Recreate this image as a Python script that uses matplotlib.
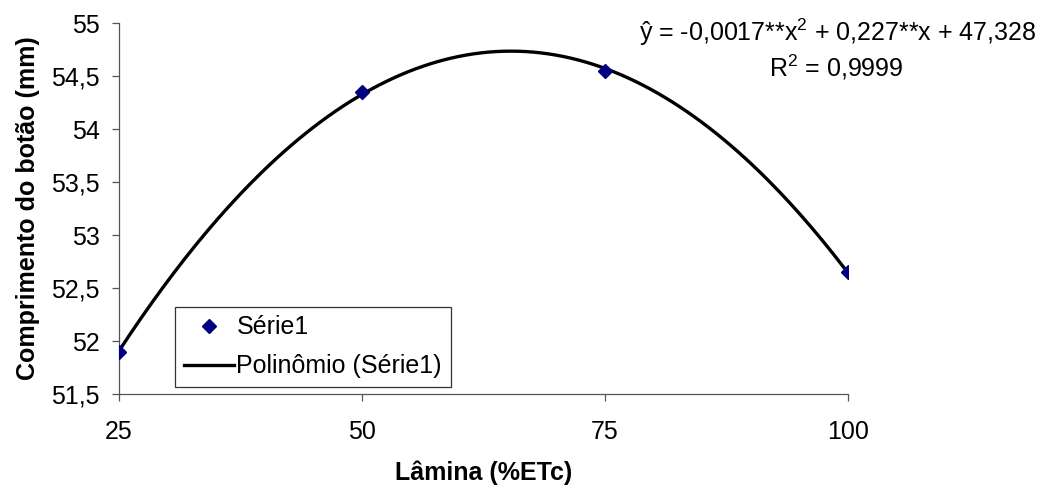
import numpy as np
import matplotlib.pyplot as plt
from matplotlib.ticker import FuncFormatter

plt.rcParams['font.family'] = ['Liberation Sans', 'DejaVu Sans']
plt.rcParams['mathtext.fontset'] = 'custom'
plt.rcParams['mathtext.rm'] = 'Liberation Sans'
plt.rcParams['mathtext.it'] = 'Liberation Sans'

# data
lamina = [25, 50, 75, 100]
comprimento = [51.9, 54.35, 54.55, 52.65]
x_ticks = [25, 50, 75, 100]
y_ticks = [51.5, 52, 52.5, 53, 53.5, 54, 54.5, 55]

# trend line (2nd degree polynomial, like the spreadsheet trendline)
coef = np.polyfit(lamina, comprimento, 2)
xs = np.linspace(25, 100, 200)
ys = np.polyval(coef, xs)

fig = plt.figure(figsize=(10.43, 4.92), dpi=100)
ax = fig.add_axes([0.1141, 0.199, 0.699, 0.754])

ax.plot(lamina, comprimento, 'D', color='#000080', markersize=7.5, label='Série1', zorder=3)
ax.plot(xs, ys, color='black', lw=2.4, label='Polinômio (Série1)', zorder=2)

ax.set_xlim(25, 100)
ax.set_ylim(51.5, 55)
ax.set_xticks(x_ticks)
ax.set_yticks(y_ticks)
ax.yaxis.set_major_formatter(FuncFormatter(lambda v, p: ('%g' % v).replace('.', ',')))
ax.tick_params(labelsize=18, length=5, width=0.9, color='#555555', labelcolor='black')
ax.tick_params(axis='y', pad=9)
ax.tick_params(axis='x', pad=14)

for s in ['top', 'right']:
    ax.spines[s].set_visible(False)
for s in ['left', 'bottom']:
    ax.spines[s].set_color('#555555')
    ax.spines[s].set_linewidth(0.9)

ax.set_xlabel('Lâmina (%ETc)', fontsize=18, fontweight='bold')
ax.xaxis.set_label_coords(0.5, -0.18)
ax.set_ylabel('Comprimento do botão (mm)', fontsize=18, fontweight='bold')
ax.yaxis.set_label_coords(-0.108, 0.5)

leg = ax.legend(loc='lower left', bbox_to_anchor=(0.077, 0.019), fontsize=18,
                fancybox=False, framealpha=1, edgecolor='#333333',
                borderpad=0.35, borderaxespad=0, handlelength=2.0,
                handletextpad=0.1, labelspacing=0.6)
leg.get_frame().set_linewidth(0.9)

fig.text(0.994, 1 - 41 / 492, 'ŷ = -0,0017**x$^{2}$ + 0,227**x + 47,328',
         ha='right', va='baseline', fontsize=18)
fig.text(0.802, 1 - 77 / 492, 'R$^{2}$ = 0,9999', ha='center', va='baseline', fontsize=18)

fig.savefig('out.png', dpi=100)
